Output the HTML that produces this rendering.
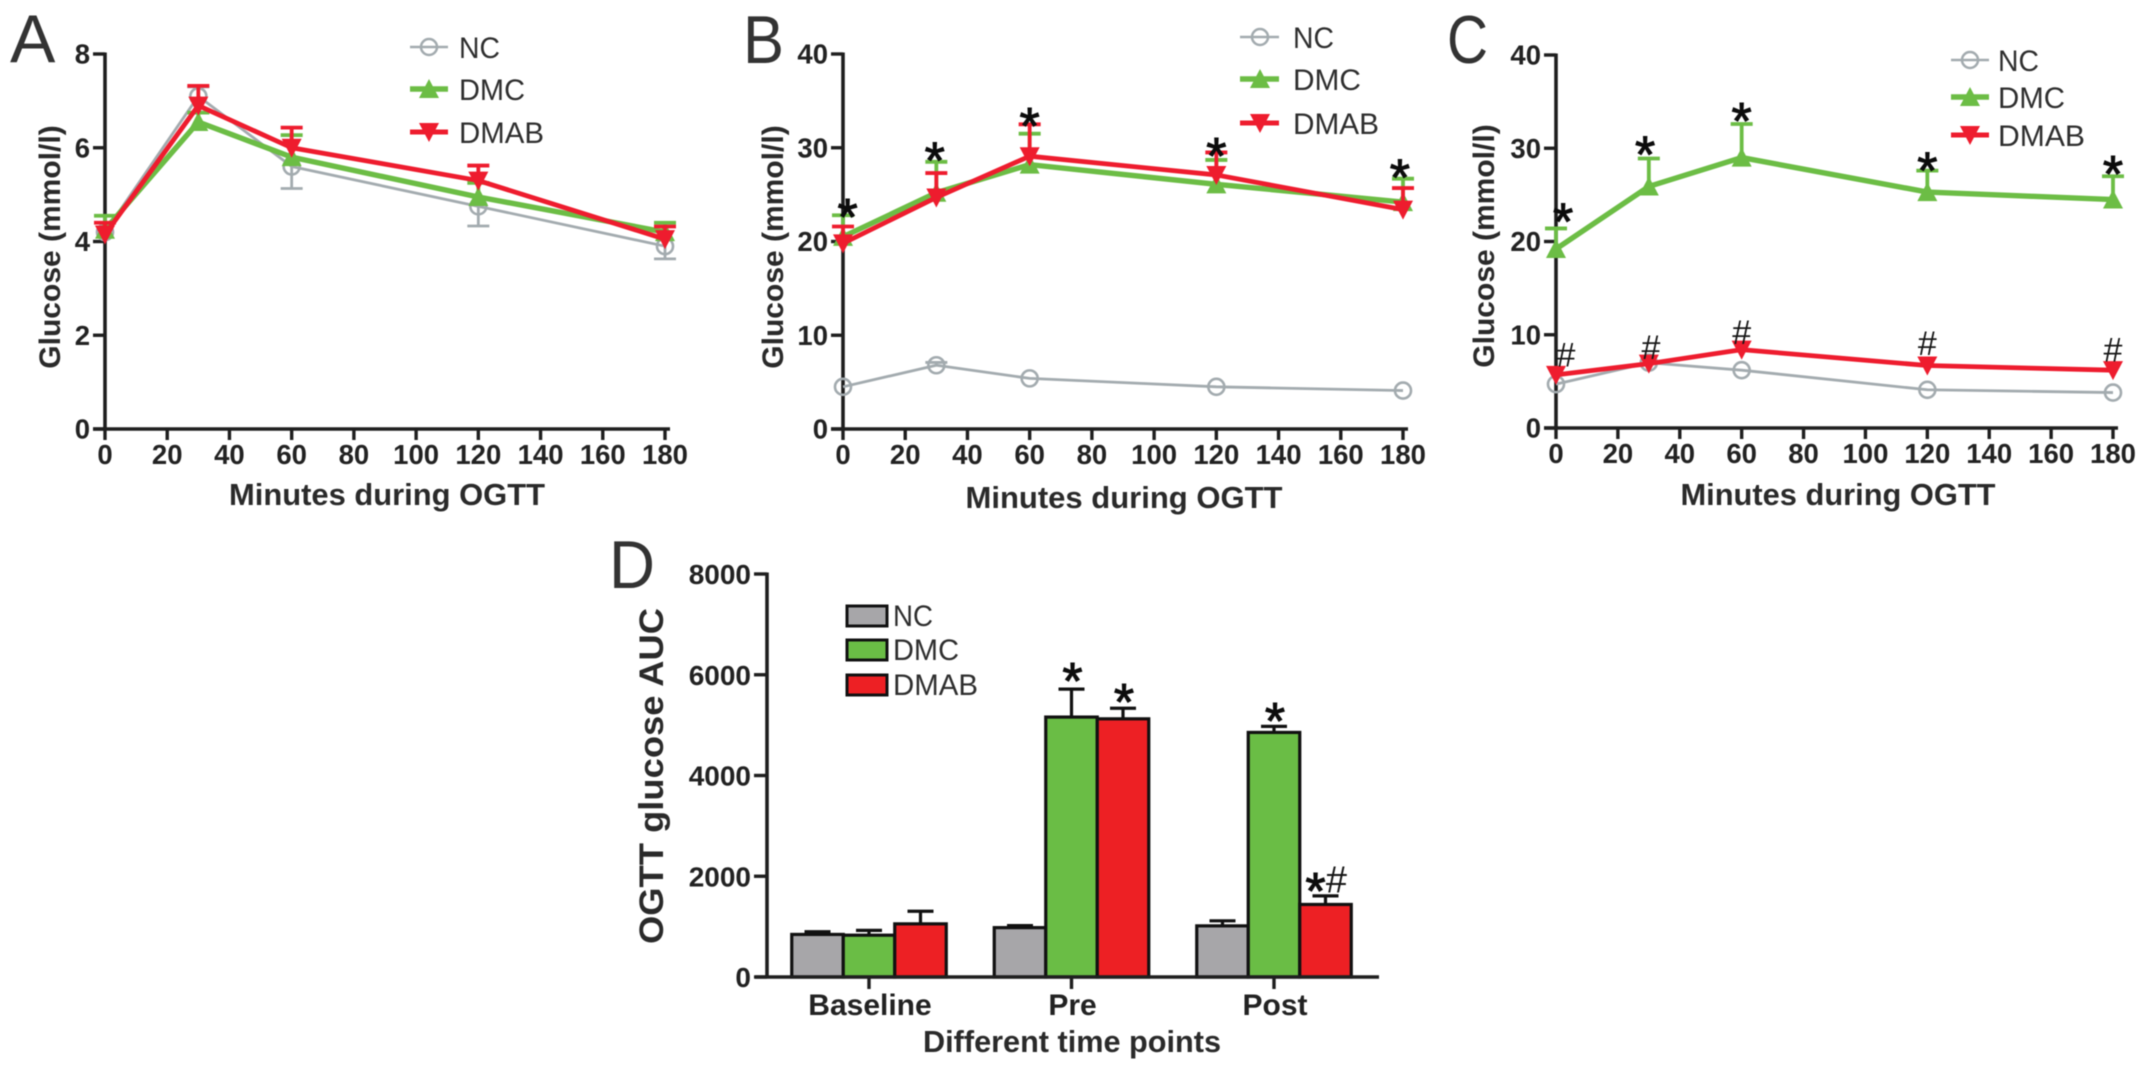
<!DOCTYPE html>
<html lang="en">
<head>
<meta charset="utf-8">
<title>OGTT glucose panels</title>
<style>
html,body{margin:0;padding:0;background:#fff;width:2150px;height:1074px;overflow:hidden}
svg{display:block;filter:blur(0.6px)}
text{font-family:"Liberation Sans",sans-serif}
.tick{font-weight:700;font-size:27.5px;fill:#222}
.title{font-weight:700;font-size:31px;fill:#2a2a2a}
.ytitle{font-weight:700;font-size:30px;fill:#2a2a2a}
.legend{font-size:30px;fill:#2e2e2e}
.letter{font-size:68px;fill:#333}
</style>
</head>
<body>
<svg id="figure" xmlns="http://www.w3.org/2000/svg" width="2150" height="1074" viewBox="0 0 2150 1074">
  <rect x="0" y="0" width="2150" height="1074" fill="#ffffff"/>

  <text class="letter" x="10" y="62">A</text>
  <text class="letter" x="743" y="63" textLength="41" lengthAdjust="spacingAndGlyphs">B</text>
  <text class="letter" x="1447" y="63" textLength="41" lengthAdjust="spacingAndGlyphs">C</text>
  <text class="letter" x="609" y="588" textLength="46" lengthAdjust="spacingAndGlyphs">D</text>

  <text class="ytitle" text-anchor="middle" transform="translate(60 247) rotate(-90)">Glucose (mmol/l)</text>
  <text class="ytitle" text-anchor="middle" transform="translate(783 247) rotate(-90)">Glucose (mmol/l)</text>
  <text class="ytitle" text-anchor="middle" transform="translate(1494 246) rotate(-90)">Glucose (mmol/l)</text>
  <text class="title" text-anchor="middle" x="387" y="505" textLength="316" lengthAdjust="spacingAndGlyphs">Minutes during OGTT</text>
  <text class="title" text-anchor="middle" x="1124" y="508" textLength="317" lengthAdjust="spacingAndGlyphs">Minutes during OGTT</text>
  <text class="title" text-anchor="middle" x="1838" y="505" textLength="315" lengthAdjust="spacingAndGlyphs">Minutes during OGTT</text>
  <text text-anchor="middle" transform="translate(663 776) rotate(-90)" font-weight="700" font-size="34.5" fill="#2a2a2a" textLength="336" lengthAdjust="spacingAndGlyphs">OGTT glucose AUC</text>
  <text class="title" text-anchor="middle" x="1072" y="1052" textLength="298" lengthAdjust="spacingAndGlyphs">Different time points</text>

  <g>
    <g><line x1="410" x2="448" y1="47" y2="47" stroke="#a3abaf" stroke-width="2.5"/><circle cx="429" cy="47" r="8" fill="none" stroke="#a3abaf" stroke-width="2.5"/><text class="legend" x="459" y="58" textLength="41" lengthAdjust="spacingAndGlyphs">NC</text></g>
    <g><line x1="410" x2="448" y1="89" y2="89" stroke="#6cbd45" stroke-width="5.4"/><polygon points="429,79 439,98 419,98" fill="#6cbd45"/><text class="legend" x="459" y="100" textLength="66" lengthAdjust="spacingAndGlyphs">DMC</text></g>
    <g><line x1="410" x2="448" y1="132" y2="132" stroke="#ee1c2e" stroke-width="5"/><polygon points="429,142 439,123 419,123" fill="#ee1c2e"/><text class="legend" x="459" y="143" textLength="85" lengthAdjust="spacingAndGlyphs">DMAB</text></g>
  </g>
  <g>
    <g><line x1="1240" x2="1279" y1="37" y2="37" stroke="#a3abaf" stroke-width="2.5"/><circle cx="1260" cy="37" r="8" fill="none" stroke="#a3abaf" stroke-width="2.5"/><text class="legend" x="1293" y="48" textLength="41" lengthAdjust="spacingAndGlyphs">NC</text></g>
    <g><line x1="1240" x2="1279" y1="79" y2="79" stroke="#6cbd45" stroke-width="5.4"/><polygon points="1260,69 1270,88 1250,88" fill="#6cbd45"/><text class="legend" x="1293" y="90" textLength="68" lengthAdjust="spacingAndGlyphs">DMC</text></g>
    <g><line x1="1240" x2="1279" y1="123" y2="123" stroke="#ee1c2e" stroke-width="5"/><polygon points="1260,133 1270,114 1250,114" fill="#ee1c2e"/><text class="legend" x="1293" y="134" textLength="86" lengthAdjust="spacingAndGlyphs">DMAB</text></g>
  </g>
  <g>
    <g><line x1="1951" x2="1989" y1="60" y2="60" stroke="#a3abaf" stroke-width="2.5"/><circle cx="1970" cy="60" r="8" fill="none" stroke="#a3abaf" stroke-width="2.5"/><text class="legend" x="1998" y="71" textLength="41" lengthAdjust="spacingAndGlyphs">NC</text></g>
    <g><line x1="1951" x2="1989" y1="97" y2="97" stroke="#6cbd45" stroke-width="5.4"/><polygon points="1970,87 1980,106 1960,106" fill="#6cbd45"/><text class="legend" x="1998" y="108" textLength="67" lengthAdjust="spacingAndGlyphs">DMC</text></g>
    <g><line x1="1951" x2="1989" y1="135" y2="135" stroke="#ee1c2e" stroke-width="5"/><polygon points="1970,145 1980,126 1960,126" fill="#ee1c2e"/><text class="legend" x="1998" y="146" textLength="87" lengthAdjust="spacingAndGlyphs">DMAB</text></g>
  </g>
  <g>
    <g><rect x="847" y="606" width="40" height="20" fill="#a7a6a9" stroke="#111" stroke-width="3"/><text class="legend" x="893" y="626" textLength="40" lengthAdjust="spacingAndGlyphs">NC</text></g>
    <g><rect x="847" y="640" width="40" height="20" fill="#6abd45" stroke="#111" stroke-width="3"/><text class="legend" x="893" y="660" textLength="66" lengthAdjust="spacingAndGlyphs">DMC</text></g>
    <g><rect x="847" y="675" width="40" height="20" fill="#ed2024" stroke="#111" stroke-width="3"/><text class="legend" x="893" y="695" textLength="85" lengthAdjust="spacingAndGlyphs">DMAB</text></g>
  </g>
</svg>
<script>
// ---- shared axis values ----
const minutes = [0, 30, 60, 120, 180];
const xTickMinutes = [0, 20, 40, 60, 80, 100, 120, 140, 160, 180];

// ---- panel A ----
const aYTicks = [0, 2, 4, 6, 8];
const aNC = [4.2, 7.1, 5.6, 4.75, 3.9];
const aNCErr = [0.2, 0.2, -0.47, -0.42, -0.27];
const aDMC = [4.25, 6.55, 5.8, 4.95, 4.2];
const aDMCErr = [0.3, 0.2, 0.47, 0.3, 0.2];
const aDMAB = [4.15, 6.9, 6.0, 5.3, 4.05];
const aDMABErr = [0.25, 0.42, 0.43, 0.32, 0.27];

// ---- panel B ----
const bYTicks = [0, 10, 20, 30, 40];
const bNC = [4.5, 6.8, 5.4, 4.5, 4.1];
const bNCErr = [0, 0.3, 0, 0, 0];
const bDMC = [20.5, 25.2, 28.2, 26.1, 24.2];
const bDMCErr = [2.3, 3.3, 3.3, 2.6, 2.5];
const bDMAB = [19.8, 24.7, 29.1, 27.1, 23.4];
const bDMABErr = [1.8, 2.6, 3.4, 2.4, 2.3];
const bStarValues = [23.9, 29.9, 33.6, 30.4, 28.1];
const bStarMinutes = [1.5, 29.5, 60, 120, 179];

// ---- panel C ----
const cYTicks = [0, 10, 20, 30, 40];
const cNC = [4.7, 7.0, 6.2, 4.1, 3.8];
const cNCErr = [0, 0, 0, 0, 0];
const cDMC = [19.2, 25.9, 29.0, 25.3, 24.5];
const cDMCErr = [2.2, 3.0, 3.6, 2.3, 2.5];
const cDMAB = [5.7, 6.9, 8.4, 6.7, 6.2];
const cDMABErr = [0, 0, 0, 0, 0];
const cStarValues = [23.4, 30.6, 34.2, 28.9, 28.5];
const cStarMinutes = [2.3, 28.8, 60, 120, 180];
const cHashValues = [7.85, 8.7, 10.3, 9.1, 8.4];
const cHashMinutes = [3.2, 30.7, 60, 120, 180];

// ---- panel D ----
const dGroups = ['Baseline', 'Pre', 'Post'];
const dYTicks = [0, 2000, 4000, 6000, 8000];
const dNC = [845, 980, 1015];
const dNCErr = [55, 40, 100];
const dDMC = [830, 5160, 4855];
const dDMCErr = [95, 555, 120];
const dDMAB = [1055, 5125, 1440];
const dDMABErr = [250, 210, 170];
const dStarValues = [[null, null, null], [null, 6115, 5700], [null, 5320, 1945]];

// ---- styles / layout ----
const GRAY = '#a3abaf', GREEN = '#6cbd45', RED = '#ee1c2e', INK = '#1f1f1f';
const frameA = {x0: 105, x1: 665, y0: 429, yTop: 54, vMax: 8, name: 'panel-a'};
const frameB = {x0: 843, x1: 1403, y0: 429, yTop: 54, vMax: 40, name: 'panel-b'};
const frameC = {x0: 1556, x1: 2113, y0: 428, yTop: 55, vMax: 40, name: 'panel-c'};
const frameD = {x0: 767, x1: 1379, y0: 977, yTop: 574, vMax: 8000, name: 'panel-d',
  group0: 869, groupStep: 202.5, barWidth: 51.5};

const svg = document.getElementById('figure');
const NS = 'http://www.w3.org/2000/svg';
function mk(parent, tag, attrs, txt) {
  const el = document.createElementNS(NS, tag);
  for (const k in attrs) el.setAttribute(k, attrs[k]);
  if (txt !== undefined) el.textContent = txt;
  parent.appendChild(el);
  return el;
}
const sx = (f, m) => f.x0 + m * (f.x1 - f.x0) / 180;
const sy = (f, v) => f.y0 - v * (f.y0 - f.yTop) / f.vMax;

function drawStar(g, x, yc) {
  const fs = 52;
  const el = mk(g, 'text', {x: x, y: yc + fs * 0.575, 'text-anchor': 'middle', 'font-size': fs, fill: '#0c0c0c', stroke: '#0c0c0c', 'stroke-width': 1});
  el.textContent = '*';
  
  
}
function drawHash(g, x, yc, size) {
  const fs = size || 34;
  const el = mk(g, 'text', {x: x, y: yc + fs * 0.35, 'text-anchor': 'middle', 'font-size': fs, fill: '#161616'}, '#');
  
  
}

function drawYAxis(f, ticks) {
  const ax = mk(svg, 'line', {x1: f.x0, x2: f.x0, y1: f.yTop - 1.5, y2: f.y0 + 1, stroke: INK, 'stroke-width': 3.6});
  
  
  ticks.forEach(v => {
    const y = sy(f, v);
    const t = mk(svg, 'line', {x1: f.x0 - 12, x2: f.x0, y1: y, y2: y, stroke: INK, 'stroke-width': 3.4});
    
    
    const lab = mk(svg, 'text', {class: 'tick', x: f.x0 - 15, y: y + 9.5, 'text-anchor': 'end'}, v);
    
    
  });
}

function drawSeries(f, vals, errs, color, width, kind, seriesName) {
  const g = mk(svg, 'g', {});
  
  
  minutes.forEach((m, i) => {
    if (!errs[i]) return;
    const x = sx(f, m), y1 = sy(f, vals[i]), y2 = sy(f, vals[i] + errs[i]);
    const bar = mk(g, 'path', {d: 'M' + x + ' ' + y1 + 'V' + y2 + 'M' + (x - 11) + ' ' + y2 + 'H' + (x + 11), fill: 'none', stroke: color, 'stroke-width': kind === 'circle' ? 2.8 : 3.8});
    
    
  });
  const pts = minutes.map((m, i) => sx(f, m) + ',' + sy(f, vals[i])).join(' ');
  const line = mk(g, 'polyline', {points: pts, fill: 'none', stroke: color, 'stroke-width': width, 'stroke-linejoin': 'round'});
  
  
  minutes.forEach((m, i) => {
    const x = sx(f, m), y = sy(f, vals[i]);
    let mark;
    if (kind === 'circle') mark = mk(g, 'circle', {cx: x, cy: y, r: 8, fill: 'none', stroke: color, 'stroke-width': 2.6});
    else if (kind === 'up') mark = mk(g, 'polygon', {points: x + ',' + (y - 10) + ' ' + (x + 10) + ',' + (y + 9) + ' ' + (x - 10) + ',' + (y + 9), fill: color});
    else mark = mk(g, 'polygon', {points: x + ',' + (y + 10) + ' ' + (x + 10) + ',' + (y - 9) + ' ' + (x - 10) + ',' + (y - 9), fill: color});
    
    
  });
}

function drawLinePanel(f, yTicks, nc, ncErr, dmc, dmcErr, dmab, dmabErr) {
  drawYAxis(f, yTicks);
  const ax = mk(svg, 'line', {x1: f.x0 - 12, x2: f.x1 + 5, y1: f.y0, y2: f.y0, stroke: INK, 'stroke-width': 3.4});
  
  
  xTickMinutes.forEach(m => {
    const x = sx(f, m);
    const t = mk(svg, 'line', {x1: x, x2: x, y1: f.y0, y2: f.y0 + 11, stroke: INK, 'stroke-width': 3.4});
    
    
    const lab = mk(svg, 'text', {class: 'tick', x: x, y: f.y0 + 35, 'text-anchor': 'middle'}, m);
    
    
  });
  drawSeries(f, nc, ncErr, GRAY, 2.8, 'circle', 'nc');
  drawSeries(f, dmc, dmcErr, GREEN, 5.4, 'up', 'dmc');
  drawSeries(f, dmab, dmabErr, RED, 4.8, 'down', 'dmab');
}

drawLinePanel(frameA, aYTicks, aNC, aNCErr, aDMC, aDMCErr, aDMAB, aDMABErr);
drawLinePanel(frameB, bYTicks, bNC, bNCErr, bDMC, bDMCErr, bDMAB, bDMABErr);
drawLinePanel(frameC, cYTicks, cNC, cNCErr, cDMC, cDMCErr, cDMAB, cDMABErr);

const annB = mk(svg, 'g', {});


bStarValues.forEach((v, i) => drawStar(annB, sx(frameB, bStarMinutes[i]), sy(frameB, v)));

const annC = mk(svg, 'g', {});


cStarValues.forEach((v, i) => drawStar(annC, sx(frameC, cStarMinutes[i]), sy(frameC, v)));
cHashValues.forEach((v, i) => drawHash(annC, sx(frameC, cHashMinutes[i]), sy(frameC, v)));

// ---- bar panel ----
(function drawBars() {
  const f = frameD;
  const seriesVals = [dNC, dDMC, dDMAB];
  const seriesErrs = [dNCErr, dDMCErr, dDMABErr];
  const seriesFill = ['#a7a6a9', '#6abd45', '#ed2024'];
  const seriesNames = ['nc', 'dmc', 'dmab'];
  dGroups.forEach((label, gi) => {
    const cx = f.group0 + gi * f.groupStep;
    seriesVals.forEach((vals, si) => {
      const x = cx + (si - 1.5) * f.barWidth;
      const top = sy(f, vals[gi]);
      const errTop = sy(f, vals[gi] + seriesErrs[si][gi]);
      const xc = x + f.barWidth / 2;
      const err = mk(svg, 'path', {d: 'M' + xc + ' ' + top + 'V' + errTop + 'M' + (xc - 13) + ' ' + errTop + 'H' + (xc + 13), fill: 'none', stroke: '#111', 'stroke-width': 3.2});
      
      
      const bar = mk(svg, 'rect', {x: x, y: top, width: f.barWidth, height: f.y0 - top, fill: seriesFill[si], stroke: '#111', 'stroke-width': 3.2});
      
      
      const sv = dStarValues[gi][si];
      if (sv !== null) drawStar(svg, xc - (gi === 2 && si === 2 ? 10 : -1), sy(f, sv));
      if (gi === 2 && si === 2) drawHash(svg, xc + 11, sy(f, sv), 38);
    });
    const t = mk(svg, 'line', {x1: cx, x2: cx, y1: f.y0, y2: f.y0 + 12, stroke: INK, 'stroke-width': 3.4});
    
    
    const lab = mk(svg, 'text', {x: cx + 1, y: 1015, 'text-anchor': 'middle', 'font-size': 30, 'font-weight': 700, fill: '#222'}, label);
    
    
  });
  const ax = mk(svg, 'line', {x1: f.x0 - 12, x2: f.x1, y1: f.y0, y2: f.y0, stroke: INK, 'stroke-width': 3.6});
  
  
  const yA = mk(svg, 'line', {x1: f.x0, x2: f.x0, y1: f.yTop - 1.5, y2: f.y0, stroke: INK, 'stroke-width': 3.6});
  
  
  dYTicks.forEach(v => {
    const y = sy(f, v);
    const t = mk(svg, 'line', {x1: f.x0 - 13, x2: f.x0, y1: y, y2: y, stroke: INK, 'stroke-width': 3.4});
    
    
    const lab = mk(svg, 'text', {x: f.x0 - 16, y: y + 10, 'text-anchor': 'end', 'font-size': 28, 'font-weight': 700, fill: '#222'}, v);
    
    
  });
})();
</script>
</body>
</html>
